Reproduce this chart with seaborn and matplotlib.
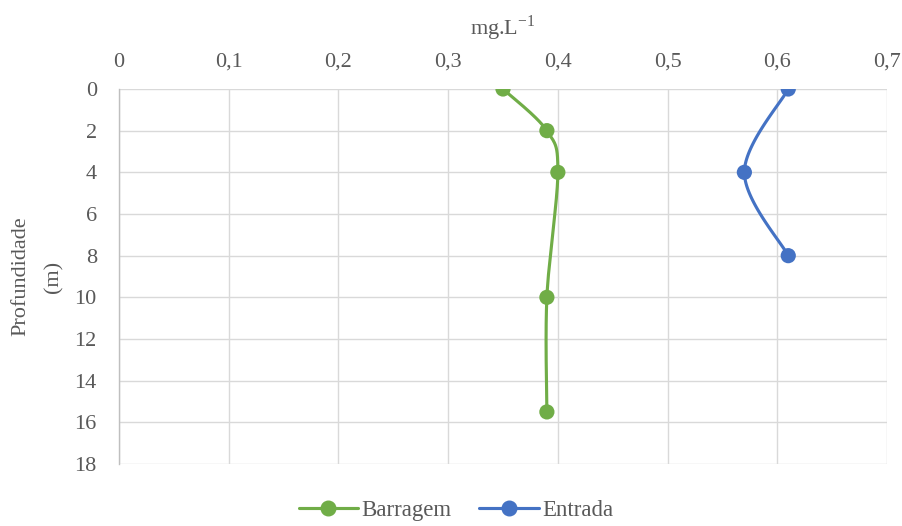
import numpy as np
import pandas as pd
import matplotlib
matplotlib.use("Agg")
import matplotlib.pyplot as plt
import seaborn as sns
from matplotlib.lines import Line2D

# Concentration profiles (mg/L) by depth (m)
barragem_depth = [0, 2, 4, 10, 15.5]
barragem_conc = [0.35, 0.39, 0.40, 0.39, 0.39]
entrada_depth = [0, 4, 8]
entrada_conc = [0.61, 0.57, 0.61]

x_ticks = [0, 0.1, 0.2, 0.3, 0.4, 0.5, 0.6, 0.7]
x_tick_labels = ["0", "0,1", "0,2", "0,3", "0,4", "0,5", "0,6", "0,7"]
y_ticks = [0, 2, 4, 6, 8, 10, 12, 14, 16, 18]

GREEN = "#70AD47"
BLUE = "#4472C4"
TEXT = "#595959"
GRID = "#D9D9D9"
FS = 16

sns.set_theme(style="white")
plt.rcParams["font.family"] = ["Liberation Serif", "DejaVu Serif"]
plt.rcParams["mathtext.fontset"] = "custom"
plt.rcParams["mathtext.rm"] = "Liberation Serif"

fig = plt.figure(figsize=(9.03, 5.26), dpi=100)
ax = fig.add_axes([119 / 903, 1 - 464 / 526, 768 / 903, 375 / 526])

XMAX, YMAX = 0.7, 18.0
SX, SY = 768 / XMAX, 375 / YMAX  # screen scale, keeps smoothing isotropic


def smooth(xs, ys, n=40):
    """Catmull-Rom style Bezier smoothing through the points."""
    pts = np.column_stack([np.asarray(xs) * SX, np.asarray(ys) * SY])
    out = []
    for i in range(len(pts) - 1):
        p0 = pts[i - 1] if i > 0 else pts[i]
        p1, p2 = pts[i], pts[i + 1]
        p3 = pts[i + 2] if i + 2 < len(pts) else pts[i + 1]
        c1 = p1 + (p2 - p0) / 6
        c2 = p2 - (p3 - p1) / 6
        t = np.linspace(0, 1, n)[:, None]
        seg = ((1 - t) ** 3) * p1 + 3 * ((1 - t) ** 2) * t * c1 + 3 * (1 - t) * t ** 2 * c2 + t ** 3 * p2
        out.append(seg if i == 0 else seg[1:])
    out = np.vstack(out)
    return out[:, 0] / SX, out[:, 1] / SY


for xs, ys, col in [(barragem_conc, barragem_depth, GREEN), (entrada_conc, entrada_depth, BLUE)]:
    cx, cy = smooth(xs, ys)
    ax.plot(cx, cy, color=col, lw=2.25, solid_capstyle="round", zorder=3)

df = pd.concat([
    pd.DataFrame({"conc": barragem_conc, "depth": barragem_depth, "serie": "Barragem"}),
    pd.DataFrame({"conc": entrada_conc, "depth": entrada_depth, "serie": "Entrada"}),
])
sns.scatterplot(data=df, x="conc", y="depth", hue="serie", palette=[GREEN, BLUE],
                s=120, edgecolor="none", ax=ax, legend=False, zorder=4)

ax.set_xlim(0, XMAX)
ax.set_ylim(YMAX, 0)
ax.xaxis.tick_top()
ax.xaxis.set_label_position("top")
ax.set_xticks(x_ticks)
ax.set_xticklabels(x_tick_labels)
ax.set_yticks(y_ticks)
ax.tick_params(axis="x", length=0, labelsize=FS, colors=TEXT, pad=12.5)
ax.tick_params(axis="y", length=0, labelsize=FS, colors=TEXT, pad=16)
ax.grid(True, color=GRID, lw=1.0)
ax.set_axisbelow(True)
for side in ["top", "right", "bottom"]:
    ax.spines[side].set_visible(False)
ax.spines["left"].set_color("#BFBFBF")
ax.spines["left"].set_linewidth(1.0)

ax.set_xlabel("mg.L$^{\\mathrm{-1}}$", fontsize=FS, color=TEXT)
ax.xaxis.set_label_coords(0.5, 1 + 54 / 375, transform=ax.transAxes)
ax.set_ylabel("Profundidade\n(m)", fontsize=FS, color=TEXT, linespacing=1.95)
ax.yaxis.set_label_coords(-56 / 768, 0.5, transform=ax.transAxes)

handles = [
    Line2D([], [], color=GREEN, lw=2.25, marker="o", markersize=10.5, label="Barragem"),
    Line2D([], [], color=BLUE, lw=2.25, marker="o", markersize=10.5, label="Entrada"),
]
leg = fig.legend(handles=handles, loc="lower center", bbox_to_anchor=(0.505, -0.03), ncol=2,
                 frameon=False, fontsize=FS + 0.5, handlelength=2.6, columnspacing=1.2, handletextpad=0.15)
for t in leg.get_texts():
    t.set_color(TEXT)

fig.savefig("out.png", dpi=100)
